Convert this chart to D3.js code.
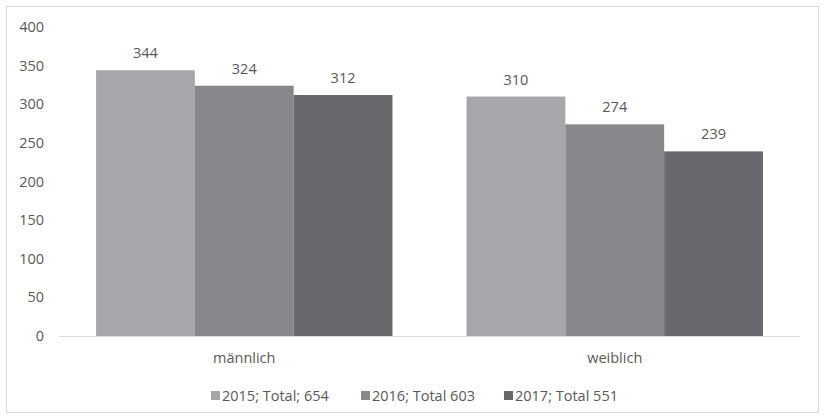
<!DOCTYPE html>
<html>
<head>
<meta charset="utf-8">
<script src="https://cdn.jsdelivr.net/npm/d3@7"></script>
<style>
  body { margin: 0; background: #fff; }
  text { font-family: "Open Sans", "Liberation Sans", sans-serif; fill: #595959; }
</style>
</head>
<body>
<div class="chart"></div>
<script>
const categories = ['männlich', 'weiblich'];
const seriesNames = ['2015; Total; 654', '2016; Total 603', '2017; Total 551'];
const values2015 = [344, 310];
const values2016 = [324, 274];
const values2017 = [312, 239];
const yTicks = [0, 50, 100, 150, 200, 250, 300, 350, 400];
const colors = ['#a6a7aa', '#87888b', '#68696c'];

const width = 824, height = 419;
const margin = {top: 27, right: 24, bottom: 83, left: 59};
const fontSize = '14.5px';

const svg = d3.select('.chart').append('svg')
    .attr('width', width)
    .attr('height', height);

// outer frame
svg.append('rect')
    .attr('x', 6.5).attr('y', 6.5)
    .attr('width', 812).attr('height', 406)
    .attr('fill', 'none')
    .attr('stroke', '#d9d9d9');

const allSeries = [values2015, values2016, values2017];

const x0 = d3.scaleBand()
    .domain(categories)
    .range([margin.left, width - margin.right])
    .paddingInner(0.2)
    .paddingOuter(0.1);

const x1 = d3.scaleBand()
    .domain(d3.range(allSeries.length))
    .range([0, x0.bandwidth()]);

const y = d3.scaleLinear()
    .domain([0, 400])
    .range([height - margin.bottom, margin.top]);

// y axis labels
svg.append('g').selectAll('text')
    .data(yTicks)
    .enter()
    .append('text')
    .attr('x', 44)
    .attr('y', d => y(d))
    .attr('dy', '0.35em')
    .attr('text-anchor', 'end')
    .style('font-size', fontSize)
    .text(d => d);

// bars
categories.forEach((c, ci) => {
    const g = svg.append('g').attr('transform', `translate(${x0(c)},0)`);
    allSeries.forEach((s, si) => {
        g.append('rect')
            .attr('x', x1(si))
            .attr('y', y(s[ci]))
            .attr('width', x1.bandwidth())
            .attr('height', y(0) - y(s[ci]))
            .attr('fill', colors[si]);
        g.append('text')
            .attr('x', x1(si) + x1.bandwidth() / 2)
            .attr('y', y(s[ci]) - 12)
            .attr('text-anchor', 'middle')
            .style('font-size', fontSize)
            .text(s[ci]);
    });
});

// baseline
svg.append('line')
    .attr('x1', margin.left).attr('x2', width - margin.right)
    .attr('y1', y(0) + 0.5).attr('y2', y(0) + 0.5)
    .attr('stroke', '#d9d9d9')
    .attr('stroke-width', 1);

// category labels
svg.append('g').selectAll('text')
    .data(categories)
    .enter()
    .append('text')
    .attr('x', d => x0(d) + x0.bandwidth() / 2)
    .attr('y', y(0) + 22)
    .attr('dy', '0.35em')
    .attr('text-anchor', 'middle')
    .style('font-size', fontSize)
    .text(d => d);

// legend
const legendX = [211, 361, 504];
const legend = svg.append('g').selectAll('g')
    .data(seriesNames)
    .enter()
    .append('g')
    .attr('transform', (d, i) => `translate(${legendX[i]},396)`);

legend.append('rect')
    .attr('x', 0).attr('y', -5)
    .attr('width', 9).attr('height', 9)
    .attr('fill', (d, i) => colors[i]);

legend.append('text')
    .attr('x', 11)
    .attr('y', 0)
    .attr('dy', '0.35em')
    .style('font-size', fontSize)
    .text(d => d);
</script>
</body>
</html>
